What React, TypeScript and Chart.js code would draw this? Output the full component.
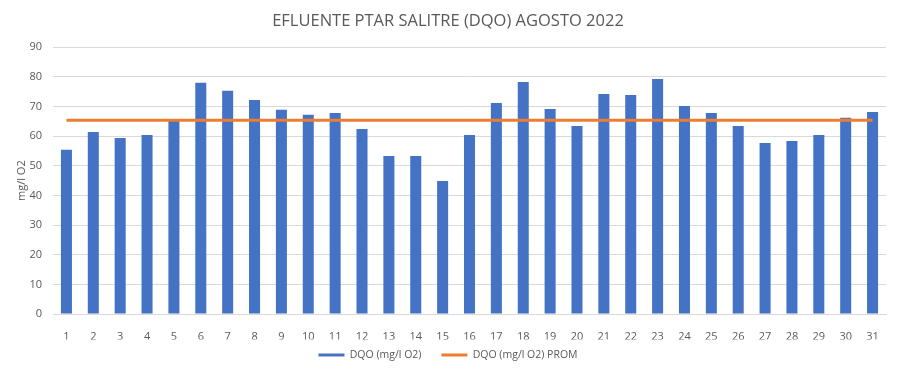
import React, { useEffect, useRef } from "react";
import { Chart, registerables } from "chart.js";

Chart.register(...registerables);

const days: string[] = [
  "1", "2", "3", "4", "5", "6", "7", "8", "9", "10", "11", "12", "13", "14", "15", "16",
  "17", "18", "19", "20", "21", "22", "23", "24", "25", "26", "27", "28", "29", "30", "31",
];

const dqoValues: number[] = [
  55.4, 61.4, 59.4, 60.4, 65.3, 78.0, 75.3, 72.2, 68.9, 67.2, 67.8, 62.4, 53.3, 53.3, 44.9,
  60.4, 71.2, 78.3, 69.2, 63.4, 74.2, 73.9, 79.3, 70.2, 67.8, 63.4, 57.7, 58.4, 60.4, 66.2, 68.2,
];

const dqoProm: number[] = [
  65.4, 65.4, 65.4, 65.4, 65.4, 65.4, 65.4, 65.4, 65.4, 65.4, 65.4, 65.4, 65.4, 65.4, 65.4, 65.4,
  65.4, 65.4, 65.4, 65.4, 65.4, 65.4, 65.4, 65.4, 65.4, 65.4, 65.4, 65.4, 65.4, 65.4, 65.4,
];

const yTicks: number[] = [0, 10, 20, 30, 40, 50, 60, 70, 80, 90];

const titleText = "EFLUENTE PTAR SALITRE (DQO) AGOSTO 2022";
const yTitle = "mg/l O2";
const seriesNames: string[] = ["DQO (mg/l O2)", "DQO (mg/l O2) PROM"];

const BLUE = "#4472C4";
const ORANGE = "#ED7D31";
const TEXT = "#595959";
const GRID = "#D9D9D9";
const FONT = "'Open Sans', 'Noto Sans', sans-serif";

const LEGEND_SHIFT = 9.75;

const legendShift = {
  id: "legendShift",
  afterLayout(chart: any) {
    const l = chart.legend;
    if (l) {
      l.top -= LEGEND_SHIFT;
      l.bottom -= LEGEND_SHIFT;
    }
  },
};

export default function App() {
  const ref = useRef<HTMLCanvasElement | null>(null);

  useEffect(() => {
    if (!ref.current) return;
    const chart = new Chart(ref.current, {
      data: {
        labels: days,
        datasets: [
          {
            type: "bar",
            label: seriesNames[0],
            data: dqoValues,
            backgroundColor: BLUE,
            borderWidth: 0,
            categoryPercentage: 1,
            barPercentage: 0.41,
            order: 1,
          },
          {
            type: "line",
            label: seriesNames[1],
            data: dqoProm,
            borderColor: ORANGE,
            backgroundColor: ORANGE,
            borderWidth: 3,
            pointRadius: 0,
            tension: 0,
            order: 0,
          },
        ],
      },
      plugins: [legendShift],
      options: {
        responsive: false,
        animation: false,
        layout: { padding: { left: 10, right: 14, top: 0, bottom: 0 } },
        plugins: {
          tooltip: { enabled: false },
          title: {
            display: true,
            text: titleText,
            color: TEXT,
            font: { family: FONT, size: 16.5, weight: "normal" },
            padding: { top: 11, bottom: 16.5 },
          },
          legend: {
            position: "bottom",
            maxHeight: 34.5,
            labels: {
              color: TEXT,
              font: { family: FONT, size: 10.5 },
              boxWidth: 26,
              boxHeight: 3,
              padding: 20,
              generateLabels: (c: any) =>
                c.data.datasets.map((ds: any, i: number) => ({
                  text: ds.label,
                  fillStyle: i === 0 ? BLUE : ORANGE,
                  strokeStyle: i === 0 ? BLUE : ORANGE,
                  lineWidth: 0,
                  hidden: false,
                  datasetIndex: i,
                  fontColor: TEXT,
                })),
            },
          },
        },
        scales: {
          x: {
            grid: { display: false },
            border: { display: true, color: GRID },
            ticks: {
              color: TEXT,
              font: { family: FONT, size: 11 },
              padding: 8,
              maxRotation: 0,
              autoSkip: false,
            },
            afterFit: (s: any) => {
              s.height = 25.5;
            },
          },
          y: {
            min: 0,
            max: 90,
            afterBuildTicks: (s: any) => {
              s.ticks = yTicks.map((v) => ({ value: v }));
            },
            grid: { color: GRID, drawTicks: false },
            border: { display: false },
            ticks: {
              color: TEXT,
              font: { family: FONT, size: 11 },
              padding: 11,
            },
            title: {
              display: true,
              text: yTitle,
              color: TEXT,
              font: { family: FONT, size: 11 },
              padding: { top: 5, bottom: 0 },
            },
            afterFit: (s: any) => {
              s.width = 43;
            },
          },
        },
      },
    } as any);
    return () => chart.destroy();
  }, []);

  return (
    <div style={{ position: "absolute", left: 0, top: 0, width: 900, height: 374, background: "#fff" }}>
      <canvas ref={ref} width={900} height={374} />
    </div>
  );
}
